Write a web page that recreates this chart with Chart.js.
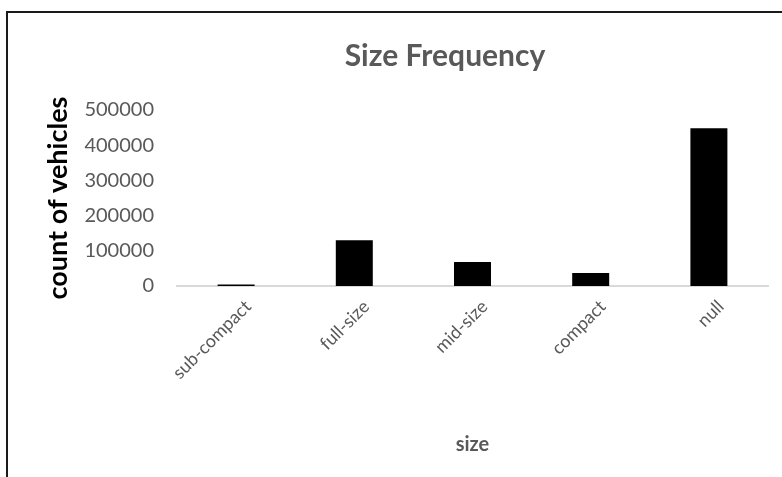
<!DOCTYPE html>
<html>
<head>
<meta charset="utf-8">
<script src="https://cdn.jsdelivr.net/npm/chart.js@4"></script>
<style>
  html, body { margin: 0; padding: 0; background: #fff; }
  canvas { display: block; }
</style>
</head>
<body>
<canvas id="c" width="782" height="477"></canvas>
<script>
const categories = ['sub-compact', 'full-size', 'mid-size', 'compact', 'null'];
const counts = [4000, 130000, 68000, 37000, 448000];
const yTicks = [0, 100000, 200000, 300000, 400000, 500000];

const FONT = 'Lato, "Open Sans", sans-serif';
const GREY = '#595959';

const framePlugin = {
  id: 'frame',
  afterLayout(chart) {
    // centre the title over the (wider) Excel chart frame
    const t = chart.titleBlock;
    if (t) { t.left = 122; t.right = 768; }
  },
  beforeDraw(chart) {
    const ctx = chart.ctx;
    ctx.save();
    ctx.fillStyle = '#fff';
    ctx.fillRect(0, 0, chart.width, chart.height);
    ctx.strokeStyle = '#1a1a1a';
    ctx.lineWidth = 2;
    ctx.beginPath();
    ctx.moveTo(7, chart.height + 2);
    ctx.lineTo(7, 12);
    ctx.lineTo(chart.width + 2, 12);
    ctx.stroke();
    ctx.restore();
  }
};

new Chart(document.getElementById('c'), {
  type: 'bar',
  data: {
    labels: categories,
    datasets: [{
      label: 'count of vehicles',
      data: counts,
      backgroundColor: '#000',
      borderWidth: 0,
      categoryPercentage: 1,
      barPercentage: 0.313
    }]
  },
  options: {
    responsive: false,
    devicePixelRatio: 1,
    animation: false,
    layout: { padding: { left: 0, right: 14, top: 0, bottom: 0 } },
    plugins: {
      legend: { display: false },
      tooltip: { enabled: false },
      title: {
        display: true,
        text: 'Size Frequency',
        color: GREY,
        font: { family: FONT, size: 30, weight: 'bold' },
        padding: { top: 38, bottom: 36 }
      }
    },
    scales: {
      x: {
        grid: { display: false, drawTicks: false },
        border: { display: true, color: '#d9d9d9', width: 2 },
        ticks: {
          color: GREY,
          font: { family: FONT, size: 18 },
          minRotation: 45,
          maxRotation: 45,
          padding: 10,
          labelOffset: 12
        },
        title: {
          display: true,
          text: 'size',
          color: GREY,
          font: { family: FONT, size: 20, weight: 'bold' },
          padding: { top: 0, bottom: 20 }
        },
        afterFit(scale) { scale.height = 191; }
      },
      y: {
        min: 0,
        max: 500000,
        grid: { display: false, drawTicks: false },
        border: { display: false },
        afterBuildTicks(scale) { scale.ticks = yTicks.map(v => ({ value: v })); },
        ticks: {
          color: GREY,
          font: { family: FONT, size: 20 },
          padding: 23,
          callback: v => String(v)
        },
        title: {
          display: true,
          text: 'count of vehicles',
          color: '#000',
          font: { family: FONT, size: 27, weight: 'bold' },
          padding: { top: 42, bottom: 0 }
        },
        afterFit(scale) { scale.width = 177; }
      }
    }
  },
  plugins: [framePlugin]
});
</script>
</body>
</html>
